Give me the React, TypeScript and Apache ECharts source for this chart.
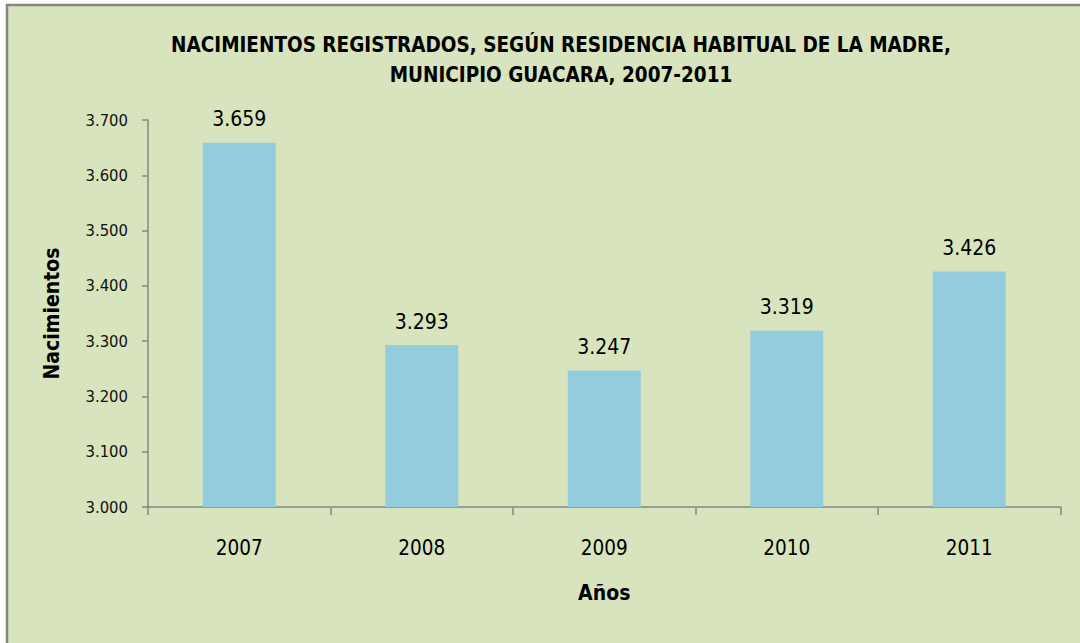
import React, { useEffect, useRef } from "react";
import * as echarts from "echarts";

const categories = ["2007", "2008", "2009", "2010", "2011"];
const values = [3659, 3293, 3247, 3319, 3426];
const titleLines = [
  "NACIMIENTOS REGISTRADOS, SEGÚN RESIDENCIA HABITUAL DE LA MADRE,",
  "MUNICIPIO GUACARA, 2007-2011",
];
const yAxisName = "Nacimientos";
const xAxisName = "Años";

const FONT = '"Liberation Sans Narrow", "DejaVu Sans Condensed", "Arial Narrow", "Liberation Sans", sans-serif';

const fmt = (v: number) => {
  const s = Math.round(v).toString();
  return s.replace(/\B(?=(\d{3})+(?!\d))/g, ".");
};

export default function App() {
  const ref = useRef<HTMLDivElement>(null);
  useEffect(() => {
    document.body.style.margin = "0";
    const chart = echarts.init(ref.current!, undefined, { renderer: "svg" });
    chart.setOption({
      animation: false,
      backgroundColor: "#ffffff",
      graphic: [
        {
          type: "rect",
          z: -10,
          silent: true,
          shape: { x: 7, y: 5, width: 1100, height: 700 },
          style: { fill: "#D7E4BD", stroke: "#858585", lineWidth: 2.5 },
        },
      ],
      title: {
        text: titleLines.join("\n"),
        left: 556,
        textAlign: "center",
        top: 25,
        textStyle: {
          fontFamily: FONT,
          fontWeight: "bold",
          fontSize: 20.5,
          lineHeight: 30,
          color: "#000000",
        },
      },
      grid: { left: 148, right: 19.5, top: 120, bottom: 136 },
      xAxis: {
        type: "category",
        data: categories,
        name: xAxisName,
        nameLocation: "middle",
        nameGap: 75,
        nameTextStyle: { fontFamily: FONT, fontWeight: "bold", fontSize: 21, color: "#000" },
        axisLine: { lineStyle: { color: "#868686", width: 1.5 } },
        axisTick: { show: true, alignWithLabel: false, length: 8, lineStyle: { color: "#868686", width: 1.5 } },
        axisLabel: { fontFamily: FONT, fontSize: 20.5, color: "#000", margin: 30 },
      },
      yAxis: {
        type: "value",
        min: 3000,
        max: 3700,
        interval: 100,
        name: yAxisName,
        nameLocation: "middle",
        nameGap: 86,
        nameRotate: 90,
        nameTextStyle: { fontFamily: FONT, fontWeight: "bold", fontSize: 21, color: "#000" },
        axisLine: { show: true, lineStyle: { color: "#868686", width: 1.5 } },
        axisTick: { show: true, length: 6, lineStyle: { color: "#868686", width: 1.5 } },
        splitLine: { show: false },
        axisLabel: {
          fontFamily: FONT,
          fontSize: 16.5,
          color: "#111",
          margin: 20,
          formatter: (v: number) => fmt(v),
        },
      },
      series: [
        {
          type: "bar",
          data: values,
          barWidth: "40%",
          itemStyle: { color: "#93CDDD" },
          label: {
            show: true,
            position: "top",
            distance: 13,
            fontFamily: FONT,
            fontSize: 21,
            color: "#000",
            formatter: (p: any) => fmt(p.value),
          },
        },
      ],
    });
    return () => chart.dispose();
  }, []);
  return <div ref={ref} style={{ width: 1080, height: 643 }} />;
}
